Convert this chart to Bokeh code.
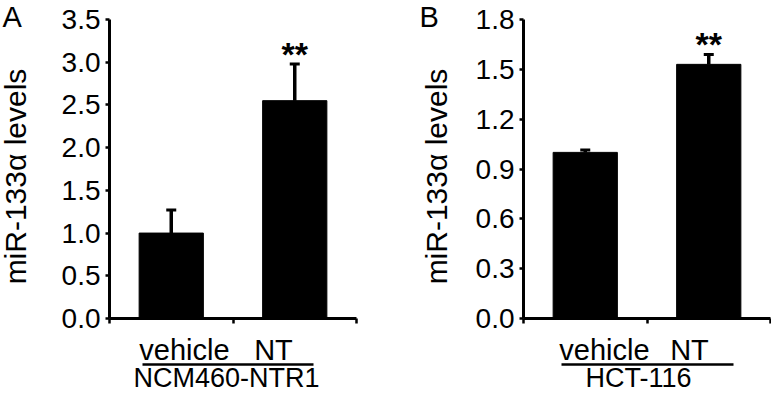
import math
from bokeh.plotting import figure
from bokeh.models import Range1d, FixedTicker
from bokeh.layouts import row
from bokeh.core.properties import value
from bokeh.embed import file_html
from bokeh.resources import INLINE

# ---------------- data ----------------
groups = ["vehicle", "NT"]
x_pos = [0.5, 1.5]
sig_marks = ["", "**"]
y_label = "miR-133α levels"

a_values = [1.0, 2.55]
a_errors = [0.27, 0.43]
a_yticks = [0.0, 0.5, 1.0, 1.5, 2.0, 2.5, 3.0, 3.5]
a_cell = "NCM460-NTR1"

b_values = [1.0, 1.53]
b_errors = [0.015, 0.06]
b_yticks = [0.0, 0.3, 0.6, 0.9, 1.2, 1.5, 1.8]
b_cell = "HCT-116"

FONT = "Liberation Sans"
H = 393
TOP = 19        # canvas y of the top tick
BASE = 318      # canvas y of zero
MID = 0.3465    # em distance from the middle anchor to the alphabetic baseline


def panel(letter, values, errors, yticks, cell, width, left, right,
          letter_cx, ylabel_cx, group_cx, line_cx, cell_cx):
    ymax = yticks[-1]
    pxx = (width - left - right) / 2.0
    pxy = (BASE - TOP) / ymax

    def dx(cx):
        return (cx - left) / pxx

    def dy(cy):
        return (BASE - cy) / pxy

    p = figure(width=width, height=H,
               x_range=Range1d(dx(0), dx(width)),
               y_range=Range1d(dy(H), dy(0)),
               output_backend="svg", toolbar_location=None,
               min_border=0, min_border_left=0, min_border_right=0,
               min_border_top=0, min_border_bottom=0)
    p.outline_line_color = None
    p.xgrid.visible = False
    p.ygrid.visible = False
    p.background_fill_color = "white"
    p.border_fill_color = "white"

    tops = [v + e for v, e in zip(values, errors)]
    p.vbar(x=x_pos, top=values, bottom=0, width=0.52, fill_color="black",
           line_color="black", line_width=1)
    p.segment(x0=x_pos, y0=values, x1=x_pos, y1=tops, line_color="black",
              line_width=3.5)
    p.scatter(x=x_pos, y=tops, marker="dash", size=10, line_color="black",
              line_width=3)
    p.text(x=x_pos, y=[t + 10 / pxy for t in tops], text=sig_marks,
           text_font=value(FONT), text_font_size=value("34px"),
           text_font_style="bold", text_align="center",
           text_baseline="middle", text_color="black")

    # y axis at x = 0
    ya = p.yaxis[0]
    ya.fixed_location = 0
    ya.bounds = (0, ymax)
    ya.ticker = FixedTicker(ticks=yticks)
    ya.major_label_overrides = {t: f"{t:.1f}" for t in yticks}
    ya.major_label_text_font = FONT
    ya.major_label_text_font_size = "28px"
    ya.major_label_text_color = "black"
    ya.major_label_standoff = 5
    ya.major_tick_out = 4
    ya.major_tick_in = 0
    ya.minor_tick_out = 0
    ya.minor_tick_in = 0
    ya.axis_line_width = 3
    ya.major_tick_line_width = 2.5

    # x axis at y = 0, ticks at the group boundaries
    xa = p.xaxis[0]
    xa.fixed_location = 0
    xa.bounds = (0, 2)
    xa.ticker = FixedTicker(ticks=[0, 1, 2])
    xa.major_label_text_font_size = "0px"
    xa.major_label_text_alpha = 0
    xa.major_tick_out = 5
    xa.major_tick_in = 0
    xa.minor_tick_out = 0
    xa.minor_tick_in = 0
    xa.axis_line_width = 3
    xa.major_tick_line_width = 2.5

    txt = dict(text_font=value(FONT), text_color="black",
               text_baseline="middle")
    # y axis title (rotated; baseline on its right side)
    p.text(x=[dx(ylabel_cx - MID * 30)], y=[dy(176)], text=[y_label],
           angle=math.pi / 2, text_align="center",
           text_font_size=value("30px"), **txt)
    # group labels, bracket line and cell line below the axis
    p.text(x=[dx(c) for c in group_cx],
           y=[dy(360 - MID * 29)] * len(groups),
           text=groups, text_align="center", text_font_size=value("29px"),
           **txt)
    p.segment(x0=[dx(line_cx[0])], y0=[dy(364)], x1=[dx(line_cx[1])],
              y1=[dy(364)], line_color="black", line_width=2.5)
    p.text(x=[dx(cell_cx)], y=[dy(387 - MID * 27)], text=[cell],
           text_align="center", text_font_size=value("27px"), **txt)
    # panel letter
    p.text(x=[dx(letter_cx)], y=[dy(27 - MID * 29)], text=[letter],
           text_align="left", text_font_size=value("29px"), **txt)
    return p


pa = panel("A", a_values, a_errors, a_yticks, a_cell, 385, 109, 29,
           2, 25, [184, 273], [142, 313], 226)
pb = panel("B", b_values, b_errors, b_yticks, b_cell, 386, 138, 1,
           34, 61, [219, 304], [176, 348], 253)

layout = row(pa, pb)
open("out.html", "w").write(file_html(layout, INLINE))
